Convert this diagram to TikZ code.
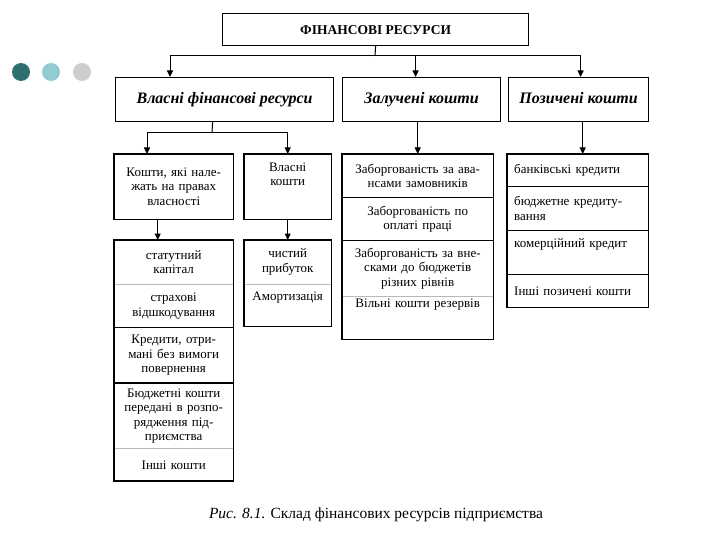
\documentclass[tikz,border=0pt]{standalone}
\usepackage{fontspec}
\setmainfont{Liberation Serif}
\usetikzlibrary{arrows.meta}
\definecolor{dotdark}{HTML}{2F6E70}
\definecolor{dotmid}{HTML}{93CBD0}
\definecolor{dotlight}{HTML}{CDCDCD}

\begin{document}
\begin{tikzpicture}[x=1pt,y=-1pt,
    box/.style={draw,line width=1.2pt,inner sep=0pt,anchor=north west},
    head/.style={box,minimum height=44pt,text height=11.5pt,text depth=3.5pt,font=\fontsize{16}{18}\selectfont\bfseries\itshape},
    cell/.style={inner sep=2pt,anchor=north west,align=center,font=\fontsize{13}{14.5}\selectfont},
    lcell/.style={cell,align=left,inner xsep=7pt,text width=127pt},
    lift/.style={text depth=#1},
    frame/.style={draw,line width=1.2pt},
    sep/.style={line width=1pt},
    sepgray/.style={line width=1pt,color=gray!55},
    link/.style={line width=1pt},
    arr/.style={line width=1pt,-{Triangle[length=6.5pt,width=6pt]}}]
    \path[fill=white] (0,0) rectangle (720,540);
    % dots
    \fill[dotdark] (21,72) circle (9pt); \fill[dotmid] (51,72) circle (9pt); \fill[dotlight] (82,72) circle (9pt);
    % top and headers
    \node[box,minimum width=306pt,minimum height=32pt,font=\fontsize{13.5}{15}\selectfont\bfseries] (fin) at (222,13) {ФІНАНСОВІ РЕСУРСИ};
    \node[head,minimum width=218pt] (h1) at (115,77) {Власні фінансові ресурси};
    \node[head,minimum width=158pt] (h2) at (342,77) {Залучені кошти};
    \node[head,minimum width=140pt] (h3) at (508,77) {Позичені кошти};
    \coordinate (fork) at (375,56); \coordinate (fork1) at (212,133);
    % own resources
    \node[cell,text width=115pt,minimum height=65pt] (own1) at (114,154) {Кошти, які нале-\\жать на правах\\власності};
    \node[cell,text width=83pt,minimum height=65pt,lift=40pt] (own2) at (244,154) {Власні\\кошти};
    \draw[frame] (own1.north west) rectangle (own1.south east); \draw[frame] (own2.north west) rectangle (own2.south east);
    \node[cell,text width=115pt,minimum height=44pt] (l1) at (114,240) {статутний\\капітал};
    \node[cell,text width=115pt,minimum height=43pt] (l2) at (l1.south west) {страхові\\відшкодування};
    \node[cell,text width=115pt,minimum height=55pt] (l3) at (l2.south west) {Кредити, отри-\\мані без вимоги\\повернення};
    \node[cell,text width=115pt,minimum height=65pt] (l4) at (l3.south west) {Бюджетні кошти\\передані в розпо-\\рядження під-\\приємства};
    \node[cell,text width=115pt,minimum height=32pt] (l5) at (l4.south west) {Інші кошти};
    \draw[sepgray] (l1.south west) -- (l1.south east); \draw[sep] (l2.south west) -- (l2.south east);
    \draw[sep,line width=1.6pt] (l3.south west) -- (l3.south east); \draw[sepgray] (l4.south west) -- (l4.south east);
    \draw[frame] (l1.north west) rectangle (l5.south east);
    \node[cell,text width=83pt,minimum height=44pt] (s1) at (244,240) {чистий\\прибуток};
    \node[cell,text width=83pt,minimum height=42pt,lift=19pt] (s2) at (s1.south west) {Амортизація};
    \draw[sepgray] (s1.south west) -- (s1.south east);
    \draw[frame] (s1.north west) rectangle (s2.south east);
    % attracted funds
    \node[cell,text width=147pt,minimum height=43pt] (m1) at (342,154) {Заборгованість за ава-\\нсами замовників};
    \node[cell,text width=147pt,minimum height=43pt] (m2) at (m1.south west) {Заборгованість по\\оплаті праці};
    \node[cell,text width=147pt,minimum height=55pt] (m3) at (m2.south west) {Заборгованість за вне-\\сками до бюджетів\\різних рівнів};
    \node[cell,text width=147pt,minimum height=43pt,lift=29pt] (m4) at (m3.south west) {Вільні кошти резервів};
    \draw[sep,line width=1.4pt] (m1.south west) -- (m1.south east); \draw[sep] (m2.south west) -- (m2.south east);
    \draw[sepgray] (m3.south west) -- (m3.south east);
    \draw[frame] (m1.north west) rectangle (m4.south east);
    % borrowed funds
    \node[lcell,minimum height=32pt] (r1) at (507,154) {банківські кредити};
    \node[lcell,minimum height=44pt] (r2) at (r1.south west) {бюджетне кредиту-\\вання};
    \node[lcell,minimum height=43pt,lift=19pt] (r3) at (r2.south west) {комерційний кредит};
    \node[lcell,minimum height=33pt] (r4) at (r3.south west) {Інші позичені кошти};
    \draw[sep] (r1.south west) -- (r1.south east); \draw[sep] (r2.south west) -- (r2.south east); \draw[sep] (r3.south west) -- (r3.south east);
    \draw[frame] (r1.north west) rectangle (r4.south east);
    % connectors
    \draw[link] (fin.south) -- (fork);
    \draw[arr] (fork) -| ([xshift=55pt]h1.north west); \draw[arr] (fork) -| ([xshift=-6pt]h2.north); \draw[arr] (fork) -| ([xshift=2pt]h3.north);
    \draw[link] ([xshift=-12pt]h1.south) -- (fork1);
    \draw[arr] (fork1) -| ([xshift=33pt]own1.north west); \draw[arr] (fork1) -| (own2.north);
    \draw[arr] (m1.north |- h2.south) -- (m1.north);
    \draw[arr] ([xshift=5pt]r1.north |- h3.south) -- ([xshift=5pt]r1.north);
    \draw[arr] ([xshift=-16pt]own1.south) -- ([xshift=-16pt]l1.north);
    \draw[arr] (own2.south) -- (s1.north);
    \node[font=\fontsize{15.5}{17}\selectfont] (caption) at (376,515) {\textit{Рис. 8.1.} Склад фінансових ресурсів підприємства};
\end{tikzpicture}
\end{document}
